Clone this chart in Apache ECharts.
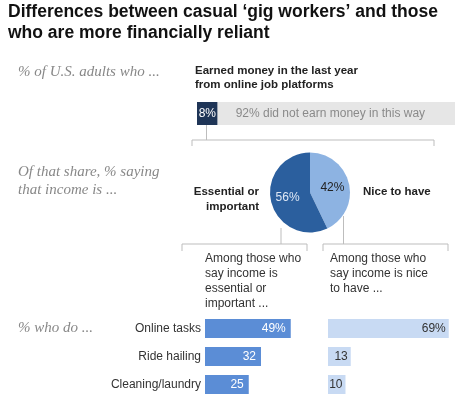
<!DOCTYPE html>
<html>
<head>
<meta charset="utf-8">
<script src="https://cdn.jsdelivr.net/npm/echarts@6/dist/echarts.min.js"></script>
<style>
  html, body { margin: 0; padding: 0; background: #fff; }
  #chart { width: 460px; height: 402px; }
</style>
</head>
<body>
<div id="chart"></div>
<script>
// data
const earnedShare = [8, 92]
const incomeLabels = ['Nice to have', 'Essential or\nimportant']
const incomeShares = [42, 56]
const tasks = ['Online tasks', 'Ride hailing', 'Cleaning/laundry']
const essentialPct = [49, 32, 25]
const nicePct = [69, 13, 10]

const SANS = '"Liberation Sans", Arial, sans-serif'
const SERIF = '"Liberation Serif", "Times New Roman", serif'

const txt = (text, x, y, font, fill, align, lh) => ({
    type: 'text',
    silent: true,
    style: {
        text: text,
        x: x,
        y: y,
        font: font,
        fill: fill,
        textAlign: align || 'left',
        align: align || 'left',
        textVerticalAlign: 'middle',
        verticalAlign: 'middle',
        lineHeight: lh || 15,
    },
})

const line = (points) => ({
    type: 'polyline',
    silent: true,
    shape: { points: points },
    style: { stroke: '#bdbdbd', lineWidth: 1, fill: null },
})

const pctFirst = (p) => (p.dataIndex === 0 ? p.value + '%' : p.value)

const chart = echarts.init(document.getElementById('chart'))
const option = {
    animation: false,
    grid: [
        { left: 197, top: 102, width: 258, height: 23 },
        { left: 205, top: 314.5, width: 175, height: 84 },
        // same scale as the left panel, max 70 keeps the grid inside the canvas
        { left: 328, top: 314.5, width: 122.5, height: 84 },
    ],
    xAxis: [
        { type: 'value', gridIndex: 0, min: 0, max: 100, show: false },
        { type: 'value', gridIndex: 1, min: 0, max: 100, show: false },
        { type: 'value', gridIndex: 2, min: 0, max: 70, show: false },
    ],
    yAxis: [
        { type: 'category', gridIndex: 0, data: ['earned'], show: false },
        {
            type: 'category',
            gridIndex: 1,
            data: tasks,
            inverse: true,
            axisLine: { show: false },
            axisTick: { show: false },
            axisLabel: { margin: 4, fontFamily: SANS, fontSize: 12, color: '#333' },
        },
        { type: 'category', gridIndex: 2, data: tasks, inverse: true, show: false },
    ],
    series: [
        {
            type: 'bar',
            stack: 'earned',
            xAxisIndex: 0,
            yAxisIndex: 0,
            barWidth: 23,
            silent: true,
            data: [earnedShare[0]],
            itemStyle: { color: '#1f3557' },
            label: {
                show: true,
                position: 'inside',
                formatter: '{c}%',
                color: '#fff',
                fontFamily: SANS,
                fontSize: 12,
            },
        },
        {
            type: 'bar',
            stack: 'earned',
            xAxisIndex: 0,
            yAxisIndex: 0,
            barWidth: 23,
            silent: true,
            data: [earnedShare[1]],
            itemStyle: { color: '#e6e6e6' },
            label: {
                show: true,
                position: 'insideLeft',
                distance: 18,
                formatter: '{c}% did not earn money in this way',
                color: '#8a8a8a',
                fontFamily: SANS,
                fontSize: 12,
            },
        },
        {
            type: 'pie',
            center: [310, 192.5],
            radius: 40,
            startAngle: 90,
            silent: true,
            data: incomeShares.map((v, i) => ({
                name: incomeLabels[i],
                value: v,
                itemStyle: { color: i === 0 ? '#8db3e2' : '#2b5f9e' },
                label: { color: i === 0 ? '#222' : '#dfe8f5' },
            })),
            label: {
                show: true,
                position: 'inside',
                formatter: '{c}%',
                fontFamily: SANS,
                fontSize: 12,
            },
            labelLine: { show: false },
        },
        {
            type: 'bar',
            xAxisIndex: 1,
            yAxisIndex: 1,
            barWidth: 19,
            silent: true,
            data: essentialPct,
            itemStyle: { color: '#5b8dd6' },
            label: {
                show: true,
                position: 'insideRight',
                distance: 5,
                formatter: pctFirst,
                color: '#fff',
                fontFamily: SANS,
                fontSize: 12,
            },
        },
        {
            type: 'bar',
            xAxisIndex: 2,
            yAxisIndex: 2,
            barWidth: 19,
            silent: true,
            data: nicePct,
            itemStyle: { color: '#c8daf3' },
            label: {
                show: true,
                position: 'insideRight',
                distance: 3,
                formatter: pctFirst,
                color: '#333',
                fontFamily: SANS,
                fontSize: 12,
            },
        },
    ],
    graphic: [
        txt("Differences between casual \u2018gig workers\u2019 and those\nwho are more financially reliant", 8, 22.5, 'bold 17.5px ' + SANS, '#111', 'left', 21),
        txt('% of U.S. adults who ...', 18, 72, 'italic 15px ' + SERIF, '#888'),
        txt('Earned money in the last year\nfrom online job platforms', 195, 78, 'bold 11.5px ' + SANS, '#222', 'left', 14),
        txt('Of that share, % saying\nthat income is ...', 18, 181, 'italic 15px ' + SERIF, '#888', 'left', 18),
        txt(incomeLabels[1], 259, 199.5, 'bold 11.5px ' + SANS, '#222', 'right', 15),
        txt(incomeLabels[0], 363, 192, 'bold 11.5px ' + SANS, '#222'),
        txt('Among those who\nsay income is\nessential or\nimportant ...', 205, 281.5, '12px ' + SANS, '#333', 'left', 15),
        txt('Among those who\nsay income is nice\nto have ...', 330, 274, '12px ' + SANS, '#333', 'left', 15),
        txt('% who do ...', 18, 328, 'italic 15px ' + SERIF, '#888'),
        line([[206.5, 125], [206.5, 140]]),
        line([[192, 146], [192, 140], [434, 140], [434, 146]]),
        line([[281, 228], [281, 244]]),
        line([[182, 251], [182, 244], [307, 244], [307, 251]]),
        line([[343.5, 216], [343.5, 244]]),
        line([[323, 251], [323, 244], [448, 244], [448, 251]]),
    ],
}
chart.setOption(option)
</script>
</body>
</html>
